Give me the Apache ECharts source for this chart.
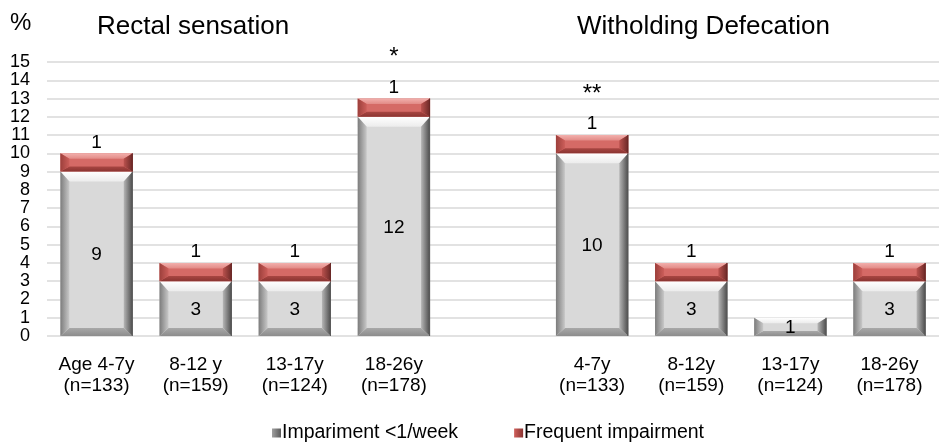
<!DOCTYPE html>
<html>
<head>
<meta charset="utf-8">
<style>
  html, body { margin: 0; padding: 0; background: #ffffff; }
  #chart { width: 939px; height: 445px; }
</style>
<script src="https://cdn.jsdelivr.net/npm/echarts@6/dist/echarts.min.js"></script>
</head>
<body>
<div id="chart"></div>
<script>
// Age groups for each panel
const rectalGroups = ['Age 4-7y\n(n=133)', '8-12 y\n(n=159)', '13-17y\n(n=124)', '18-26y\n(n=178)'];
const witholdingGroups = ['4-7y\n(n=133)', '8-12y\n(n=159)', '13-17y\n(n=124)', '18-26y\n(n=178)'];

// Percent of children per group
const rectalMild = [9, 3, 3, 12];
const rectalFrequent = [1, 1, 1, 1];
const witholdingMild = [10, 3, 1, 3];
const witholdingFrequent = [1, 1, 0, 1];

// Significance markers above the stacks
const rectalNotes = ['', '', '', '*'];
const witholdingNotes = ['**', '', '', ''];

// Value axis
const yMin = 0;
const yMax = 15;
const yStep = 1;

const seriesNames = ['Impariment <1/week', 'Frequent impairment'];
const panelTitles = ['Rectal sensation', 'Witholding Defecation'];

// One empty slot separates the two panels
const categories = [...rectalGroups, '', ...witholdingGroups];
const mildValues = [...rectalMild, null, ...witholdingMild];
const frequentValues = [...rectalFrequent, null, ...witholdingFrequent];
const notes = [...rectalNotes, '', ...witholdingNotes];

const FONT = '"Liberation Sans", Arial, Helvetica, sans-serif';

const grayBevel = {
  face: '#d9d9d9',
  top: ['#ffffff', '#ececec'],
  bottom: ['#a8a8a8', '#8c8c8c'],
  left: ['#7c7c7c', '#c8c8c8'],
  right: ['#b6b6b6', '#4a4a4a'],
  edge: '#5a5a5a'
};
const redBevel = {
  face: '#d56a66',
  top: ['#f2b0ad', '#e28a86'],
  bottom: ['#a84642', '#8a3431'],
  left: ['#9c3f3b', '#cc5e5a'],
  right: ['#bb524e', '#6a2826'],
  edge: '#6a2826'
};

function grad(x, y, x2, y2, a, b) {
  return new echarts.graphic.LinearGradient(x, y, x2, y2, [
    { offset: 0, color: a }, { offset: 1, color: b }
  ]);
}

function makeRenderer(pal, kind) {
  return function (params, api) {
    const i = api.value(0);
    const lo = api.value(1);
    const hi = api.value(2);
    if (!(hi > lo)) return null;
    const base = api.coord([i, lo]);
    const top = api.coord([i, hi]);
    const bw = api.size([1, 0])[0] * 0.73;
    const x0 = base[0] - bw / 2, x1 = base[0] + bw / 2;
    const y0 = top[1], y1 = base[1];
    const h = y1 - y0;
    const bx = Math.min(9, bw / 5);
    const bt = Math.min(10, h * 0.3);
    const bb = Math.min(8, h * 0.28);
    const children = [
      { type: 'rect', shape: { x: x0, y: y0, width: bw, height: h }, style: { fill: pal.face } },
      { type: 'polygon', shape: { points: [[x0, y0], [x1, y0], [x1 - bx, y0 + bt], [x0 + bx, y0 + bt]] },
        style: { fill: grad(0, 0, 0, 1, pal.top[0], pal.top[1]) } },
      { type: 'polygon', shape: { points: [[x0, y1], [x1, y1], [x1 - bx, y1 - bb], [x0 + bx, y1 - bb]] },
        style: { fill: grad(0, 0, 0, 1, pal.bottom[0], pal.bottom[1]) } },
      { type: 'polygon', shape: { points: [[x0, y0], [x0 + bx, y0 + bt], [x0 + bx, y1 - bb], [x0, y1]] },
        style: { fill: grad(0, 0, 1, 0, pal.left[0], pal.left[1]) } },
      { type: 'polygon', shape: { points: [[x1, y0], [x1 - bx, y0 + bt], [x1 - bx, y1 - bb], [x1, y1]] },
        style: { fill: grad(0, 0, 1, 0, pal.right[0], pal.right[1]) } },
      { type: 'line', shape: { x1: x1 - 0.5, y1: y0, x2: x1 - 0.5, y2: y1 }, style: { stroke: pal.edge, lineWidth: 1 } }
    ];
    const value = hi - lo;
    if (kind === 'mild') {
      children.push({ type: 'text', style: {
        text: String(value), x: base[0], y: (y0 + y1) / 2 + 1,
        align: 'center', verticalAlign: 'middle', font: '19px ' + FONT, fill: '#000000' } });
    } else {
      children.push({ type: 'text', style: {
        text: String(value), x: base[0], y: y0 - 11,
        align: 'center', verticalAlign: 'middle', font: '19px ' + FONT, fill: '#000000' } });
      const note = notes[i];
      if (note) {
        children.push({ type: 'text', style: {
          text: note, x: base[0], y: y0 - 41,
          align: 'center', verticalAlign: 'middle', font: '24px ' + FONT, fill: '#000000' } });
      }
    }
    return { type: 'group', children: children };
  };
}

const mildData = [];
const frequentData = [];
categories.forEach(function (c, i) {
  if (mildValues[i] == null) return;
  mildData.push([i, 0, mildValues[i]]);
  if (frequentValues[i] > 0) {
    frequentData.push([i, mildValues[i], mildValues[i] + frequentValues[i]]);
  }
});

const titleText = { fontSize: 26, fontWeight: 'normal', color: '#000', fontFamily: FONT };

const chart = echarts.init(document.getElementById('chart'), null, { renderer: 'canvas' });
chart.setOption({
  animation: false,
  backgroundColor: '#ffffff',
  textStyle: { fontFamily: FONT },
  title: [
    { text: '%', left: 10, top: 11, padding: 0, textStyle: { fontSize: 24, fontWeight: 'normal', color: '#000', fontFamily: FONT } },
    { text: panelTitles[0], left: 97, top: 14, padding: 0, textStyle: titleText },
    { text: panelTitles[1], left: 577, top: 14, padding: 0, textStyle: titleText }
  ],
  legend: {
    left: 272,
    top: 423,
    padding: 0,
    itemWidth: 9,
    itemHeight: 9,
    itemGap: 56,
    icon: 'rect',
    textStyle: { fontSize: 19.5, color: '#000', fontFamily: FONT, padding: [0, 0, 0, -4] },
    data: [
      { name: seriesNames[0], itemStyle: { color: grad(0, 0, 1, 0, '#a0a0a0', '#5a5a5a') } },
      { name: seriesNames[1], itemStyle: { color: grad(0, 0, 1, 0, '#d0605c', '#8a3431') } }
    ]
  },
  grid: { left: 47, top: 62, width: 900, height: 274, containLabel: false },
  xAxis: {
    type: 'category',
    data: categories,
    axisLine: { show: false },
    axisTick: { show: false },
    axisLabel: { fontSize: 19, lineHeight: 21, color: '#000', margin: 18, interval: 0, fontFamily: FONT }
  },
  yAxis: {
    type: 'value',
    min: yMin,
    max: yMax,
    interval: yStep,
    axisLine: { show: false },
    axisTick: { show: false },
    axisLabel: { fontSize: 18, color: '#000', margin: 17, fontFamily: FONT },
    splitLine: { lineStyle: { color: '#d9d9d9', width: 1.5 } }
  },
  series: [
    { name: seriesNames[0], type: 'custom', renderItem: makeRenderer(grayBevel, 'mild'),
      encode: { x: 0, y: [1, 2] }, data: mildData, itemStyle: { color: '#8a8a8a' } },
    { name: seriesNames[1], type: 'custom', renderItem: makeRenderer(redBevel, 'frequent'),
      encode: { x: 0, y: [1, 2] }, data: frequentData, itemStyle: { color: '#b04a46' } }
  ]
});
</script>
</body>
</html>
